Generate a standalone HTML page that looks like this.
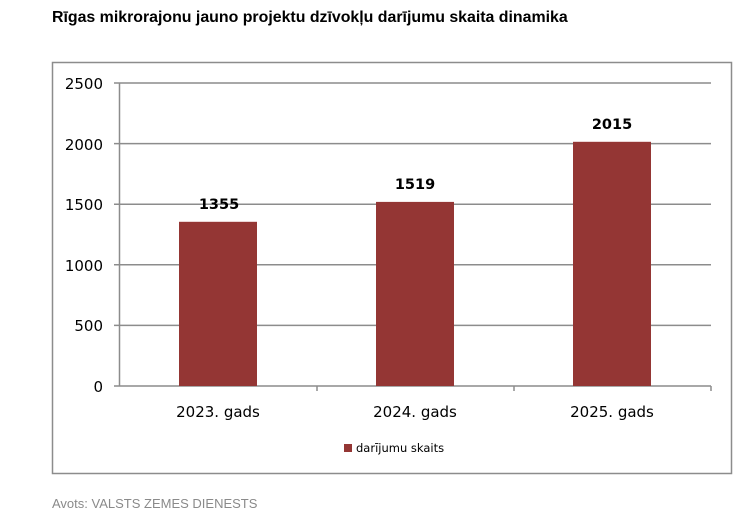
<!DOCTYPE html>
<html><head><meta charset="utf-8"><style>
body{margin:0;background:#fff;width:750px;height:529px;overflow:hidden;font-family:"Liberation Sans",Arial,sans-serif}
</style></head><body>
<svg width="750" height="529" xmlns="http://www.w3.org/2000/svg" style="position:absolute;left:0;top:0">
<text x="52" y="22" font-family="Liberation Sans, Arial, sans-serif" font-size="15.9" font-weight="bold" fill="#000">Rīgas mikrorajonu jauno projektu dzīvokļu darījumu skaita dinamika</text>
<rect x="52.5" y="62.5" width="679" height="411" fill="#fff" stroke="#8c8c8c" stroke-width="1.5"/>
<g stroke="#8c8c8c" stroke-width="1.5">
<line x1="114" y1="83" x2="711" y2="83"/>
<line x1="114" y1="143.6" x2="711" y2="143.6"/>
<line x1="114" y1="204.2" x2="711" y2="204.2"/>
<line x1="114" y1="264.8" x2="711" y2="264.8"/>
<line x1="114" y1="325.4" x2="711" y2="325.4"/>
<line x1="114" y1="386" x2="711" y2="386"/>
<line x1="119.5" y1="83" x2="119.5" y2="386"/>
<line x1="317" y1="386" x2="317" y2="391"/>
<line x1="514" y1="386" x2="514" y2="391"/>
<line x1="711" y1="386" x2="711" y2="391"/>
</g>
<g fill="#943634">
<rect x="179" y="221.8" width="78" height="164.2"/>
<rect x="376" y="201.9" width="78" height="184.1"/>
<rect x="573" y="141.8" width="78" height="244.2"/>
</g>
<g font-family="DejaVu Sans, sans-serif" font-size="15" fill="#000" text-anchor="end">
<text x="103" y="89">2500</text>
<text x="103" y="150">2000</text>
<text x="103" y="210">1500</text>
<text x="103" y="271">1000</text>
<text x="103" y="331">500</text>
<text x="103" y="392">0</text>
</g>
<g font-family="DejaVu Sans, sans-serif" font-size="15" fill="#000" text-anchor="middle">
<text x="218" y="417">2023. gads</text>
<text x="415" y="417">2024. gads</text>
<text x="612" y="417">2025. gads</text>
</g>
<g font-family="DejaVu Sans, sans-serif" font-size="14.5" font-weight="bold" fill="#000" text-anchor="middle">
<text x="219" y="209">1355</text>
<text x="415" y="189">1519</text>
<text x="612" y="129">2015</text>
</g>
<rect x="344" y="444" width="8" height="8" fill="#943634"/>
<text x="356" y="452" font-family="DejaVu Sans, sans-serif" font-size="11.5" fill="#000">darījumu skaits</text>
<text x="52" y="508" font-family="Liberation Sans, Arial, sans-serif" font-size="13" fill="#8a8a8a">Avots: VALSTS ZEMES DIENESTS</text>
</svg>
</body></html>
